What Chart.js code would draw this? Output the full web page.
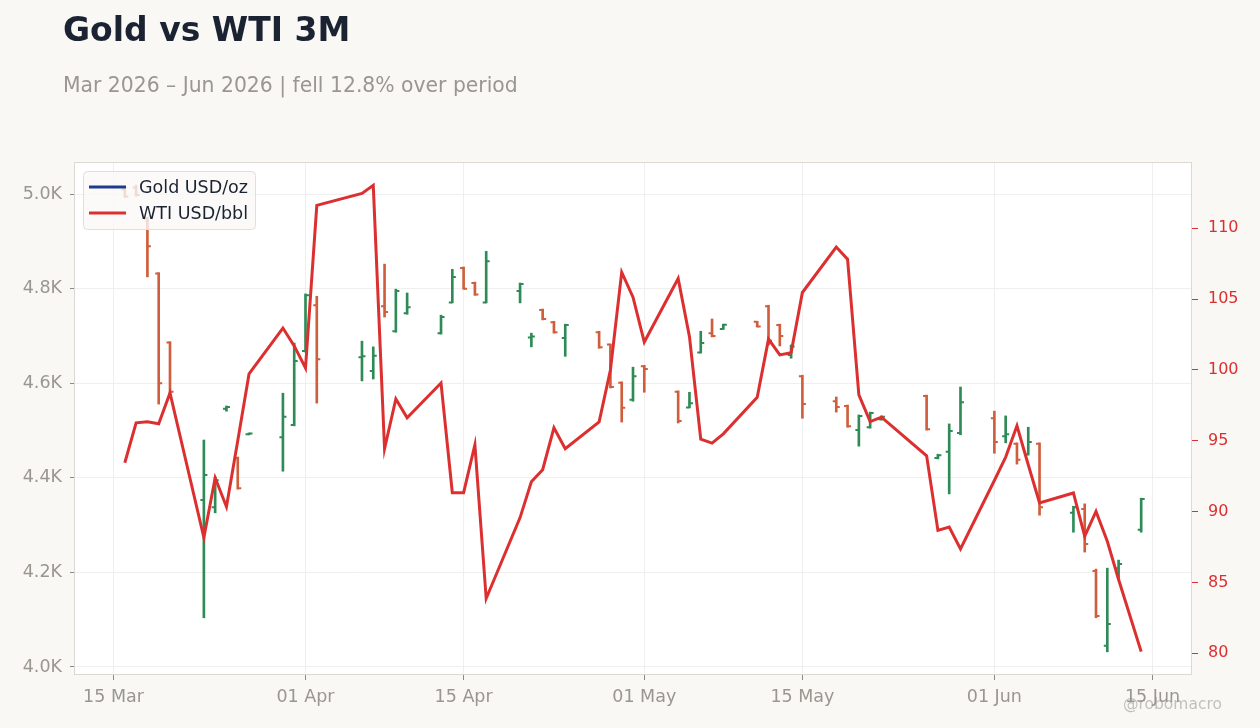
<!DOCTYPE html>
<html>
<head>
<meta charset="utf-8">
<title>Gold vs WTI 3M</title>
<script src="https://cdn.jsdelivr.net/npm/chart.js@4.4.1/dist/chart.umd.min.js"></script>
<style>
  html, body { margin: 0; padding: 0; background: #f9f8f5; }
  #wrap { position: relative; width: 1260px; height: 728px; font-family: "DejaVu Sans", sans-serif; }
  #chart { position: absolute; left: 0; top: 0; }
  #title { position: absolute; left: 63px; top: 10px; margin: 0; font-size: 33px; line-height: normal; font-weight: bold; color: #1b2333; }
  #subtitle { position: absolute; left: 63px; top: 73px; font-size: 20.35px; line-height: normal; color: #9a9690; }
  #credit { position: absolute; right: 38px; top: 695px; font-size: 15.5px; line-height: normal; color: rgba(150, 146, 140, 0.55); }
</style>
</head>
<body>
<div id="wrap">
  <canvas id="chart" width="1260" height="728"></canvas>
  <h1 id="title">Gold vs WTI 3M</h1>
  <div id="subtitle">Mar 2026 – Jun 2026 | fell 12.8% over period</div>
  <div id="credit">@robomacro</div>
</div>
<script>
// trading days shown on the chart
const dates = [
  '2026-03-16', '2026-03-17', '2026-03-18', '2026-03-19', '2026-03-20',
  '2026-03-23', '2026-03-24', '2026-03-25', '2026-03-26', '2026-03-27',
  '2026-03-30', '2026-03-31', '2026-04-01', '2026-04-02',
  '2026-04-06', '2026-04-07', '2026-04-08', '2026-04-09', '2026-04-10',
  '2026-04-13', '2026-04-14', '2026-04-15', '2026-04-16', '2026-04-17',
  '2026-04-20', '2026-04-21', '2026-04-22', '2026-04-23', '2026-04-24',
  '2026-04-27', '2026-04-28', '2026-04-29', '2026-04-30', '2026-05-01',
  '2026-05-04', '2026-05-05', '2026-05-06', '2026-05-07', '2026-05-08',
  '2026-05-11', '2026-05-12', '2026-05-13', '2026-05-14', '2026-05-15',
  '2026-05-18', '2026-05-19', '2026-05-20', '2026-05-21', '2026-05-22',
  '2026-05-26', '2026-05-27', '2026-05-28', '2026-05-29',
  '2026-06-01', '2026-06-02', '2026-06-03', '2026-06-04', '2026-06-05',
  '2026-06-08', '2026-06-09', '2026-06-10', '2026-06-11', '2026-06-12',
  '2026-06-14'
];

// Gold USD/oz, daily OHLC
const goldOpen = [
  5010, 5014, 4948, 4832, 4686, 4353, 4338, 4546, 4442, 4492,
  4486, 4512, 4668, 4765, 4655, 4626, 4763, 4710, 4748,
  4706, 4771, 4844, 4812, 4771, 4795, 4697, 4755, 4729, 4696,
  4708, 4682, 4601, 4565, 4636, 4582, 4549, 4665, 4706, 4715,
  4730, 4763, 4723, 4660, 4615, 4562, 4552, 4501, 4507, 4524,
  4573, 4442, 4455, 4495, 4526, 4488, 4472, 4450, 4472,
  4326, 4334, 4203, 4045, 4209, 4290
];
const goldHigh = [
  5016, 5019, 4951, 4834, 4688, 4480, 4402, 4552, 4444, 4495,
  4579, 4685, 4789, 4784, 4689, 4677, 4852, 4799, 4791,
  4744, 4841, 4846, 4814, 4879, 4812, 4706, 4757, 4731, 4725,
  4710, 4683, 4603, 4634, 4638, 4584, 4581, 4710, 4736, 4725,
  4731, 4765, 4725, 4681, 4617, 4571, 4554, 4533, 4539, 4531,
  4575, 4450, 4514, 4592, 4541, 4531, 4474, 4507, 4474,
  4340, 4345, 4207, 4209, 4226, 4357
];
const goldLow = [
  4993, 4996, 4825, 4556, 4572, 4104, 4326, 4541, 4376, 4491,
  4414, 4510, 4666, 4558, 4605, 4609, 4740, 4708, 4746,
  4704, 4770, 4799, 4786, 4770, 4770, 4677, 4734, 4706, 4657,
  4674, 4590, 4518, 4562, 4581, 4516, 4548, 4664, 4698, 4714,
  4719, 4681, 4679, 4653, 4526, 4539, 4507, 4467, 4505, 4522,
  4501, 4440, 4366, 4491, 4452, 4474, 4429, 4448, 4321,
  4285, 4243, 4104, 4032, 4188, 4285
];
const goldClose = [
  4995, 4998, 4890, 4600, 4582, 4406, 4395, 4550, 4378, 4494,
  4529, 4647, 4786, 4651, 4657, 4658, 4751, 4795, 4761,
  4740, 4825, 4800, 4788, 4858, 4810, 4699, 4736, 4708, 4723,
  4676, 4592, 4548, 4615, 4630, 4520, 4558, 4685, 4700, 4724,
  4720, 4690, 4700, 4678, 4556, 4550, 4509, 4531, 4537, 4529,
  4503, 4448, 4499, 4560, 4476, 4492, 4438, 4476, 4338,
  4338, 4260, 4108, 4091, 4218, 4355
];

// WTI USD/bbl, daily close
const wti = [
  93.45, 96.27, 96.34, 96.20, 98.38, 88.17, 92.39, 90.35, 95.00, 99.72,
  102.96, 101.70, 100.14, 111.62, 112.46, 113.03, 94.44, 97.96, 96.62,
  99.08, 91.34, 91.34, 94.72, 83.87, 89.58, 92.11, 92.96, 95.92, 94.44,
  96.34, 100.00, 106.90, 105.14, 101.97, 106.46, 102.35, 95.12, 94.84, 95.49,
  98.08, 102.18, 101.06, 101.22, 105.47, 108.68, 107.82, 98.24, 96.36, 96.67,
  93.94, 88.68, 88.92, 87.37, 92.20, 93.85, 96.06, 93.31, 90.61,
  91.32, 88.26, 90.02, 87.91, 85.21, 80.12
];

const tickDates = ['2026-03-15', '2026-04-01', '2026-04-15', '2026-05-01', '2026-05-15', '2026-06-01', '2026-06-15'];
const tickLabels = ['15 Mar', '01 Apr', '15 Apr', '01 May', '15 May', '01 Jun', '15 Jun'];
const goldTicks = [4000, 4200, 4400, 4600, 4800, 5000];
const goldTickLabels = ['4.0K', '4.2K', '4.4K', '4.6K', '4.8K', '5.0K'];
const wtiTicks = [80, 85, 90, 95, 100, 105, 110];

const UP = '#2e8b57';
const DOWN = '#cf5f3c';
const WTI_RED = '#dc3030';
const GOLD_BLUE = '#1f3b8f';
const GREY = '#9a9690';
const FONT = '"DejaVu Sans", sans-serif';

// x axis runs in days from 15 Mar 2026
const origin = Date.parse('2026-03-15');
const toDay = s => (Date.parse(s) - origin) / 86400000;
const days = dates.map(toDay);
const tickDays = tickDates.map(toDay);
const barColors = goldOpen.map((o, i) => goldClose[i] >= o ? UP : DOWN);

// open / close ticks on the gold bars
const ohlcTicks = {
  id: 'ohlcTicks',
  afterDatasetDraw(chart, args) {
    if (args.meta.type !== 'bar') return;
    const { ctx } = chart;
    const xs = chart.scales.x, ys = chart.scales.y;
    ctx.save();
    ctx.lineWidth = 2;
    days.forEach((d, i) => {
      const px = xs.getPixelForValue(d);
      const po = ys.getPixelForValue(goldOpen[i]);
      const pc = ys.getPixelForValue(goldClose[i]);
      ctx.strokeStyle = barColors[i];
      ctx.beginPath();
      ctx.moveTo(px - 3.5, po);
      ctx.lineTo(px, po);
      ctx.moveTo(px, pc);
      ctx.lineTo(px + 3.5, pc);
      ctx.stroke();
    });
    ctx.restore();
  }
};

const plotFrame = {
  id: 'plotFrame',
  beforeDraw(chart) {
    const { ctx, chartArea: a } = chart;
    ctx.save();
    ctx.fillStyle = '#ffffff';
    ctx.fillRect(a.left, a.top, a.right - a.left, a.bottom - a.top);
    ctx.restore();
  },
  afterDraw(chart) {
    const { ctx, chartArea: a } = chart;
    ctx.save();
    ctx.strokeStyle = '#dcd8d2';
    ctx.lineWidth = 1;
    ctx.strokeRect(a.left + 0.5, a.top + 0.5, a.right - a.left - 1, a.bottom - a.top - 1);
    ctx.restore();
  }
};

// legend inside the plot, top left
const boxLegend = {
  id: 'boxLegend',
  afterDatasetsDraw(chart) {
    const { ctx, chartArea: a } = chart;
    const items = [
      { text: chart.data.datasets[1].label, color: GOLD_BLUE },
      { text: chart.data.datasets[0].label, color: WTI_RED }
    ];
    const left = a.left + 9, top = a.top + 9;
    ctx.save();
    ctx.beginPath();
    ctx.roundRect(left + 0.5, top + 0.5, 172, 58, 4);
    ctx.fillStyle = 'rgba(250, 249, 246, 0.8)';
    ctx.fill();
    ctx.strokeStyle = '#e2dfda';
    ctx.lineWidth = 1;
    ctx.stroke();
    ctx.font = '17.5px ' + FONT;
    ctx.textBaseline = 'middle';
    items.forEach((it, i) => {
      const cy = top + 16 + i * 26;
      ctx.strokeStyle = it.color;
      ctx.lineWidth = 3;
      ctx.beginPath();
      ctx.moveTo(left + 6, cy);
      ctx.lineTo(left + 43, cy);
      ctx.stroke();
      ctx.fillStyle = '#1b2333';
      ctx.fillText(it.text, left + 56, cy + 1);
    });
    ctx.restore();
  }
};

const tickFont = { family: FONT, size: 17.5 };

new Chart(document.getElementById('chart'), {
  type: 'bar',
  data: {
    datasets: [
      {
        type: 'line',
        label: 'WTI USD/bbl',
        data: days.map((d, i) => ({ x: d, y: wti[i] })),
        yAxisID: 'y1',
        borderColor: WTI_RED,
        borderWidth: 3,
        pointRadius: 0,
        tension: 0,
        order: 0
      },
      {
        type: 'bar',
        label: 'Gold USD/oz',
        data: days.map((d, i) => ({ x: d, y: [goldLow[i], goldHigh[i]] })),
        yAxisID: 'y',
        backgroundColor: barColors,
        borderWidth: 0,
        barThickness: 2,
        grouped: false,
        order: 1
      }
    ]
  },
  options: {
    responsive: false,
    animation: false,
    layout: { padding: { top: 162, left: 0, right: 0, bottom: 0 } },
    plugins: {
      legend: { display: false },
      tooltip: { enabled: false }
    },
    scales: {
      x: {
        type: 'linear',
        min: -3.5,
        max: 95.5,
        offset: false,
        afterBuildTicks: s => { s.ticks = tickDays.map(v => ({ value: v })); },
        afterFit: s => { s.height = 53; },
        ticks: {
          callback: v => tickLabels[tickDays.indexOf(v)],
          color: GREY,
          font: tickFont,
          padding: 7,
          maxRotation: 0,
          autoSkip: false
        },
        grid: { offset: false, color: '#efefef', tickColor: '#8a8a8a', tickLength: 5 },
        border: { display: false }
      },
      y: {
        position: 'left',
        min: 3983,
        max: 5068,
        afterBuildTicks: s => { s.ticks = goldTicks.map(v => ({ value: v })); },
        afterFit: s => { s.width = 74; },
        ticks: {
          callback: v => goldTickLabels[goldTicks.indexOf(v)],
          color: GREY,
          font: tickFont,
          padding: 8
        },
        grid: { color: '#efefef', tickColor: '#8a8a8a', tickLength: 4 },
        border: { display: false }
      },
      y1: {
        position: 'right',
        min: 78.47,
        max: 114.68,
        afterBuildTicks: s => { s.ticks = wtiTicks.map(v => ({ value: v })); },
        afterFit: s => { s.width = 68; },
        ticks: { color: WTI_RED, font: { family: FONT, size: 16 }, padding: 10 },
        grid: { drawOnChartArea: false, color: WTI_RED, tickColor: WTI_RED, tickLength: 6 },
        border: { display: false }
      }
    }
  },
  plugins: [plotFrame, ohlcTicks, boxLegend]
});
</script>
</body>
</html>
